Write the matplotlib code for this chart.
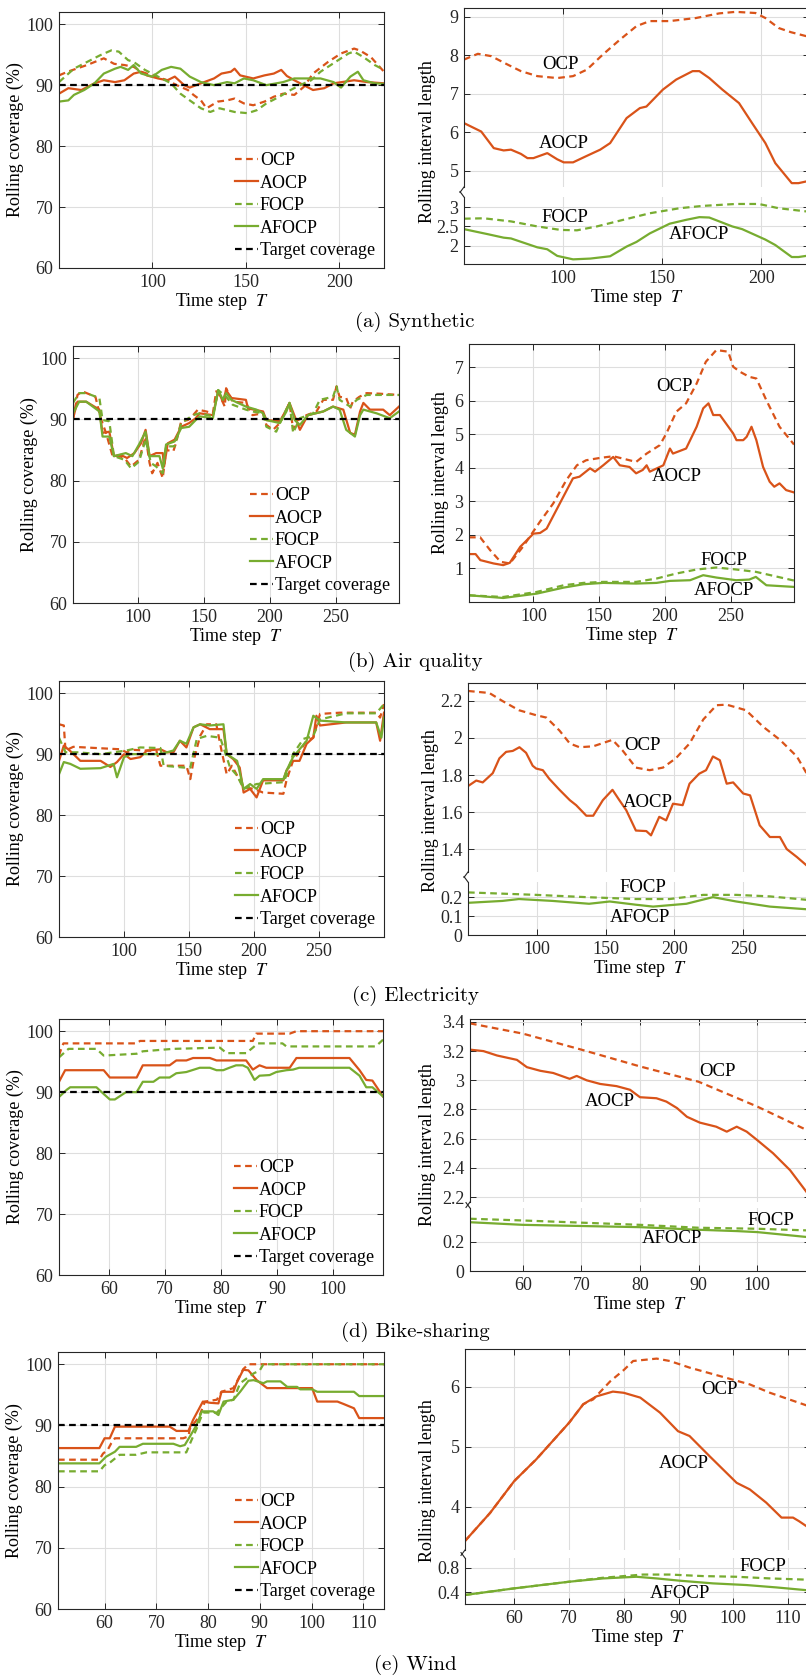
import numpy as np
import matplotlib.pyplot as plt
from matplotlib.ticker import FuncFormatter

plt.rcParams["font.family"] = ["Liberation Serif", "DejaVu Serif"]
plt.rcParams["mathtext.fontset"] = "stix"

ORANGE = "#D95319"
GREEN = "#77AC30"
INK = "#262626"
TARGET = 90

# ---------- (a) Synthetic ----------
syn_cov_ocp = [(50, 91.6), (54.6, 92.2), (65, 93.3), (74, 94.4), (79.5, 93.5), (85, 93.3), (90, 93), (94, 92.2),
               (100, 91.6), (108, 90.8), (113, 90), (119, 89.2), (122, 88.4), (126, 87.5), (129, 86.2), (135, 87.3),
               (140, 87.5), (144, 87.8), (149, 87), (154, 86.7), (160, 87.3), (165, 88.1), (170, 88.6), (176, 88.4),
               (181, 89.7), (186, 91.9), (194, 93.8), (201, 95.2), (208, 96), (211, 95.7), (217, 94.6), (224, 92.2)]
syn_cov_aocp = [(50, 88.6), (55, 89.5), (62, 89.2), (69, 90.3), (74, 90.8), (80, 90.5), (85, 90.8), (90, 91.9),
                (94, 92.2), (97, 91.6), (103, 91.1), (108, 90.8), (112, 91.4), (117, 90), (120, 89.6), (126, 90.3),
                (133, 91.1), (137, 91.9), (142, 92.2), (144, 92.7), (147, 91.6), (154, 91.1), (160, 91.6), (165, 91.9),
                (169, 92.5), (172, 91.5), (176, 90.8), (181, 90), (186, 89.2), (192, 89.5), (197, 90.3), (208, 90.8),
                (215, 90.5), (224, 90.3)]
syn_cov_focp = [(50, 90.5), (58, 92.7), (65, 93.8), (72, 94.9), (78, 95.7), (82, 95.5), (87, 94.1), (90, 93.8),
                (96, 92.5), (103, 91.4), (110, 90.3), (115, 88.6), (120, 87.5), (126, 86.2), (131, 85.6), (136, 86.2),
                (144, 85.6), (151, 85.4), (156, 85.9), (161, 87), (168, 88.1), (174, 89.2), (179, 90), (185, 90.8),
                (190, 92.2), (197, 93.6), (205, 95.2), (208, 95.5), (213, 94.6), (219, 93.3), (224, 92.5)]
syn_cov_afocp = [(50, 87.3), (55, 87.5), (58, 88.4), (63.5, 89.2), (69, 90.3), (74, 91.9), (80, 92.7), (83, 93),
                 (87, 92.5), (90, 93.3), (94, 91.9), (100, 91.4), (105, 92.5), (110, 93), (115, 92.7), (120, 91.4),
                 (126, 90.5), (133, 90), (140, 90.5), (144, 90.3), (149, 91.1), (154, 90.8), (161, 90), (170, 90.5),
                 (176, 91.1), (183, 91.1), (190, 91.1), (197, 90.5), (201, 89.6), (206, 91.4), (210, 92.2),
                 (213, 90.8), (219, 90.3), (224, 90.2)]
syn_len_ocp = [(50, 7.89), (57, 8.04), (63.7, 7.98), (72, 7.76), (78.7, 7.59), (87, 7.46), (97, 7.41), (105, 7.46),
               (112, 7.63), (120, 8.02), (128.7, 8.41), (137, 8.76), (143.7, 8.89), (153.7, 8.89), (167, 8.97),
               (178.7, 9.09), (187, 9.13), (197, 9.1), (202, 8.97), (208.7, 8.71), (215, 8.6), (224, 8.48)]
syn_len_aocp = [(50, 6.24), (58.7, 6.02), (65, 5.59), (70, 5.53), (73.7, 5.55), (78.7, 5.44), (82, 5.33), (85, 5.33),
                (92, 5.46), (97, 5.3), (100.3, 5.22), (105, 5.22), (112, 5.39), (118.7, 5.55), (123.7, 5.72),
                (132, 6.37), (138.7, 6.63), (142, 6.67), (150.3, 7.11), (157, 7.37), (165.3, 7.59), (168.7, 7.59),
                (173.7, 7.41), (180.3, 7.11), (188.7, 6.76), (195.3, 6.24), (202, 5.72), (207, 5.2), (215.3, 4.68),
                (218.7, 4.68), (224, 4.74)]
syn_len_focp = [(50, 2.70), (60, 2.71), (73.7, 2.63), (87, 2.5), (98.7, 2.41), (107, 2.4), (117, 2.5), (128.7, 2.65),
                (143.7, 2.84), (158.7, 2.97), (170.3, 3.03), (187, 3.08), (198.7, 3.08), (208.7, 2.97), (224, 2.88)]
syn_len_afocp = [(50, 2.43), (62, 2.3), (70, 2.21), (73.7, 2.19), (87, 1.96), (92, 1.91), (97, 1.74), (105, 1.65),
                 (113.7, 1.67), (123.7, 1.73), (132, 1.98), (137, 2.1), (143.7, 2.32), (153.7, 2.57), (162, 2.67),
                 (168.7, 2.74), (173.7, 2.73), (185.3, 2.5), (190.3, 2.43), (202, 2.16), (207, 2.02), (215.3, 1.71),
                 (218.7, 1.71), (224, 1.75)]

# ---------- (b) Air quality ----------
air_cov_ocp = [(51, 89.9), (54.4, 94), (58, 94.6), (68, 93.7), (72, 90.2), (76, 87.8), (81, 84), (86, 84), (90, 83.7),
               (95, 82.3), (101, 83.4), (106, 87.2), (109, 82.9), (111, 81.2), (115, 82.9), (119, 80.4), (121.5, 85),
               (127, 84.8), (129, 86.1), (133, 89.7), (138, 89.9), (142, 90.7), (145.6, 91.6), (152, 91.3), (157, 91),
               (159.5, 94.6), (162, 94), (166, 92.1), (167, 95.1), (172, 92.9), (182, 92.7), (187, 90.7), (195, 91),
               (197.5, 89.1), (202.6, 88.3), (207.7, 89.4), (212.7, 91.6), (215, 92.7), (217.8, 88.3), (220, 89.7),
               (228, 90.7), (235.5, 91.3), (240.6, 93.2), (248, 93.2), (250.7, 95.4), (253, 93.7), (258, 93.5),
               (261, 91.8), (263, 92.9), (268, 93.7), (273.5, 94.3), (283.7, 94.2), (298, 94)]
air_cov_aocp = [(51, 90.2), (54.4, 92.9), (61, 92.9), (71, 91.6), (72, 89.9), (73.4, 87.8), (78.5, 88), (82, 84),
                (87, 84.2), (92, 83.7), (97.5, 84.5), (102.5, 86.1), (106, 88.3), (109, 84), (114, 84.5), (119, 84.5),
                (120, 82.3), (122.8, 86.1), (128, 86.7), (133, 88.8), (139, 89.4), (144, 90.2), (147, 91), (157, 90.7),
                (161, 94.6), (164.6, 92.9), (167, 94.8), (171, 93.5), (182, 93.2), (183.6, 91.8), (195, 91.3),
                (197.5, 89.9), (207.7, 89.7), (212.7, 91.6), (215, 92.7), (219, 90.5), (222.9, 88.3), (229, 90.7),
                (240.6, 91.3), (248, 92.1), (255.8, 91.6), (261, 87.8), (264.6, 87.5), (268.5, 91.3), (271, 92.7),
                (276, 91.6), (286, 91.6), (291, 90.7), (298, 92.1)]
air_cov_focp = [(51, 92.7), (55.7, 94.3), (61, 94.3), (71, 93.5), (73.4, 89.9), (78.5, 89.7), (82, 84), (90, 83.4),
                (95, 82), (101, 83.1), (106, 86.7), (110, 82.9), (114, 82.3), (119, 81.2), (121.5, 85.6), (128, 85.6),
                (133, 89.4), (142, 90.7), (147, 91), (157, 90.5), (161, 94.8), (167, 93.7), (172, 92.4), (182, 91.6),
                (187, 91.3), (195, 91), (197.5, 88.8), (205, 88), (210, 90.5), (215, 92.7), (217.8, 87.8),
                (222.9, 90.2), (233, 91), (238, 93.2), (248, 93.7), (250.7, 95.4), (253, 93.2), (261, 92.1),
                (266, 93.2), (273.5, 94), (298, 94)]
air_cov_afocp = [(51, 91), (55.7, 92.9), (61, 92.9), (71, 91.3), (73.4, 87.2), (78.5, 87.2), (82, 84), (91, 84.5),
                 (96, 84), (101, 85.9), (106, 88), (109, 84), (116.5, 84), (119, 82), (121.5, 85.9), (128, 86.4),
                 (133, 88.6), (139, 88.8), (144, 89.9), (147, 90.5), (157, 90.2), (161, 94.8), (164.6, 93.2),
                 (167, 94.3), (171, 93.2), (182, 92.1), (190, 91.6), (195, 91), (197.5, 89.9), (207.7, 89.4),
                 (212.7, 91.3), (215, 92.7), (219, 89.9), (222.9, 89.1), (229, 90.7), (240.6, 91.3), (248, 92.1),
                 (253, 91.6), (258, 88.3), (264.6, 87.2), (268.5, 90.7), (271, 91.6), (281, 91), (291, 90.2),
                 (298, 91.3)]
air_len_ocp = [(51, 1.93), (59.5, 1.93), (67, 1.55), (75, 1.2), (82, 1.15), (92, 1.65), (105, 2.4), (115, 2.94),
               (125, 3.64), (133, 4.08), (140, 4.23), (150.5, 4.3), (160.6, 4.35), (168, 4.28), (178, 4.18),
               (186, 4.43), (196, 4.68), (201, 5.03), (208.6, 5.68), (216, 5.93), (224, 6.52), (231, 7.17),
               (239, 7.52), (248, 7.47), (251.8, 7.02), (257, 6.87), (264, 6.72), (269.4, 6.67), (277, 6.02),
               (287, 5.23), (298, 4.7)]
air_len_aocp = [(51, 1.43), (56, 1.43), (59.6, 1.25), (69.7, 1.15), (77, 1.1), (82, 1.17), (90, 1.65), (100, 2.04),
                (105, 2.06), (110, 2.19), (120, 2.94), (130, 3.69), (135, 3.74), (143, 3.99), (146.8, 3.89),
                (153, 4.08), (160.6, 4.33), (165.6, 4.08), (173, 4.03), (178, 3.84), (183, 3.94), (186, 4.08),
                (188.4, 3.89), (198.7, 4.08), (203.7, 4.58), (206, 4.43), (216, 4.58), (224, 5.23), (229, 5.78),
                (233, 5.93), (236.6, 5.58), (241.7, 5.58), (251.8, 5.03), (254.3, 4.83), (259.4, 4.83), (262, 4.93),
                (265.7, 5.23), (269.4, 4.83), (274.5, 4.03), (279.5, 3.59), (283, 3.44), (287, 3.54), (292, 3.34),
                (298, 3.27)]
air_len_focp = [(51, 0.2), (77, 0.15), (102.5, 0.3), (123, 0.5), (138, 0.57), (153, 0.6), (178, 0.6), (193.5, 0.7),
                (208.6, 0.85), (224, 0.97), (239, 1.03), (254, 0.97), (269, 0.9), (298, 0.64)]
air_len_afocp = [(51, 0.2), (77, 0.12), (102.5, 0.25), (123, 0.43), (138, 0.53), (153, 0.57), (178, 0.55),
                 (193.5, 0.57), (203.7, 0.63), (219, 0.65), (229, 0.8), (239, 0.73), (254, 0.65), (264, 0.67),
                 (269, 0.75), (277, 0.5), (298, 0.45)]

# ---------- (c) Electricity ----------
ele_cov_ocp = [(50, 94.9), (53.7, 94.7), (55, 90.6), (61, 91.2), (97, 90.8), (102, 90.3), (107.4, 90.7), (125, 90.5),
               (128, 88.1), (148, 88.1), (151, 85.9), (153.5, 88.9), (158.6, 93), (163.7, 94.9), (171, 94.9),
               (175, 90.6), (179, 86.7), (183, 88.1), (187, 86.5), (192, 84.6), (199.6, 84.3), (207, 83.7),
               (222.6, 83.5), (225, 85.7), (230, 88.9), (240.5, 92.2), (245.6, 92.7), (250.8, 96.6), (266, 96.8),
               (294, 96.8), (297, 96), (300, 98.2)]
ele_cov_aocp = [(50, 88.9), (53.7, 91.4), (58.7, 90.5), (66.4, 88.9), (82, 88.9), (89.5, 87.9), (94.6, 88.7),
                (100, 90), (105, 89.2), (112.5, 89.5), (117.7, 90.6), (128, 90.8), (133, 90.3), (138, 90.3),
                (143, 92.2), (148, 91.1), (153.5, 94.4), (158.6, 94.9), (166, 94.1), (176.5, 94.1), (179, 90),
                (184, 89.2), (189, 87.8), (192, 83.7), (197, 84.3), (202, 82.9), (207, 85.7), (222.6, 85.7),
                (225, 87.3), (230, 88.9), (235, 88.9), (240.5, 91.7), (245.6, 92.7), (248, 96.3), (250.8, 94.7),
                (271, 95.2), (294, 95.2), (297, 92.2), (300, 96.8)]
ele_cov_focp = [(50, 92.7), (55, 90.3), (64, 90.3), (82, 90), (102, 90.6), (112.5, 91.1), (128, 91), (130.5, 88.1),
                (146, 87.8), (151, 87.8), (156, 92.5), (163.7, 93), (174, 92.7), (176.5, 91.1), (181.6, 87.8),
                (187, 86.5), (192, 84.3), (202, 85.1), (222.6, 85.4), (225, 86.5), (230, 90), (238, 92.5),
                (245.6, 93), (250.8, 95.7), (271, 96.7), (294, 96.7), (300, 98.2)]
ele_cov_afocp = [(50, 86.7), (53.7, 88.7), (58.7, 88.4), (66.4, 87.6), (82, 87.7), (92, 88.4), (94.6, 86.2),
                 (100, 89.5), (105, 90), (128, 90), (138, 90.6), (143, 92.2), (148, 91.7), (153.5, 94.4),
                 (158.6, 94.9), (166, 94.7), (176.5, 94.9), (179, 90), (187, 88.9), (192, 84.3), (197, 85.1),
                 (202, 84.3), (207, 85.9), (222.6, 85.9), (225, 87.3), (230, 89.5), (240.5, 92.2), (245.6, 96.3),
                 (250.8, 95.5), (271, 95.2), (294, 95.2), (298, 92.7), (300, 96)]
ele_len_ocp = [(50, 2.254), (65.5, 2.243), (75, 2.2), (87, 2.15), (99.5, 2.123), (107, 2.11), (116.5, 2.04),
               (124, 1.97), (131, 1.95), (141, 1.955), (155, 1.99), (162.6, 1.93), (172, 1.84), (182, 1.826),
               (191.7, 1.84), (201, 1.89), (211, 1.97), (221, 2.10), (230.6, 2.177), (238, 2.18), (252, 2.15),
               (264.6, 2.06), (276.7, 1.99), (289, 1.9), (296, 1.81), (300, 1.77)]
ele_len_aocp = [(50, 1.74), (56, 1.77), (60.7, 1.76), (68, 1.81), (72.8, 1.89), (77.7, 1.925), (82.5, 1.93),
                (87.4, 1.95), (92.2, 1.92), (97, 1.85), (99.5, 1.835), (104.4, 1.826), (109, 1.78), (116.5, 1.72),
                (124, 1.664), (128.6, 1.637), (136, 1.58), (141, 1.58), (148, 1.664), (155, 1.72), (160, 1.664),
                (165, 1.61), (172, 1.5), (179.6, 1.497), (183, 1.474), (189, 1.574), (194, 1.555), (199, 1.645),
                (206, 1.637), (211, 1.753), (218, 1.807), (223, 1.826), (228, 1.9), (233, 1.88), (238, 1.753),
                (242.7, 1.76), (250, 1.70), (255, 1.69), (262, 1.528), (269.4, 1.465), (276.7, 1.465), (281.6, 1.40),
                (289, 1.357), (296, 1.312), (300, 1.29)]
ele_len_focp = [(50, 0.225), (99.5, 0.212), (136, 0.2), (172, 0.19), (196.6, 0.19), (221, 0.212), (245, 0.212),
                (269.4, 0.204), (296, 0.186), (300, 0.184)]
ele_len_afocp = [(50, 0.17), (75, 0.18), (87, 0.19), (111.6, 0.18), (138, 0.165), (153, 0.177), (172, 0.16),
                 (184.5, 0.15), (208.7, 0.165), (228, 0.2), (245, 0.177), (269.4, 0.15), (296, 0.136), (300, 0.134)]

# ---------- (d) Bike-sharing ----------
bik_cov_ocp = [(51, 96), (51.5, 97.4), (51.8, 98), (64.9, 98), (65.5, 98.4), (85.7, 98.4), (86.3, 99.6),
               (92.3, 99.6), (93.5, 100), (109, 100)]
bik_cov_aocp = [(51, 91.7), (52.1, 93.6), (59, 93.6), (60.1, 92.4), (64.9, 92.4), (66, 94.4), (70.8, 94.4),
                (72, 95.2), (73.8, 95.2), (75, 95.6), (78, 95.6), (79.2, 95.2), (84.5, 95.2), (85.7, 93.7),
                (86.9, 94.4), (88.1, 94), (92.3, 94), (93.5, 95.6), (103, 95.6), (104.8, 93.6), (106, 92),
                (107.1, 91.9), (109, 89.3)]
bik_cov_focp = [(51, 95.7), (52.7, 97.1), (57.7, 97.1), (59, 96), (64.9, 96.3), (66, 96.7), (71.4, 97.1),
                (79.8, 97.3), (81, 96.4), (84.5, 96.4), (85.7, 97.3), (86.6, 98), (91, 98), (91.7, 97.5),
                (107.7, 97.5), (109, 98.6)]
bik_cov_afocp = [(51, 89.2), (52.4, 90.4), (53, 90.8), (57.7, 90.8), (59, 89.7), (60.1, 88.8), (61, 88.8), (63, 90),
                 (64.9, 90), (66, 91.7), (67.9, 91.7), (69, 92.4), (70.8, 92.4), (72, 93.1), (73.8, 93.3),
                 (76.2, 94), (78, 94), (79.2, 93.6), (80.4, 93.6), (81.5, 94), (82.7, 94.4), (83.9, 94.4),
                 (84.8, 94), (86, 92), (86.9, 92.7), (88.7, 92.8), (89.9, 93.3), (91.7, 93.6), (92.9, 93.7),
                 (94, 94), (103, 94), (104.8, 92.7), (106, 90.8), (107.1, 90.8), (109, 89.3)]
bik_len_ocp = [(51, 3.39), (60, 3.32), (70, 3.21), (80, 3.095), (90, 2.99), (100, 2.82), (108.4, 2.66), (109, 2.65)]
bik_len_aocp = [(51, 3.21), (53.3, 3.2), (55.6, 3.17), (59, 3.14), (60.7, 3.09), (63, 3.065), (65.2, 3.05),
                (68, 3.01), (69.2, 3.03), (70.9, 3.0), (73.2, 2.975), (76, 2.96), (78.3, 2.935), (80, 2.884),
                (82.8, 2.877), (84.5, 2.854), (86.3, 2.81), (88, 2.75), (90.2, 2.71), (93, 2.682), (94.8, 2.648),
                (96.5, 2.682), (98.2, 2.648), (100, 2.59), (102.7, 2.5), (105.6, 2.384), (108.4, 2.235), (109, 2.2)]
bik_len_focp = [(51, 0.36), (60, 0.348), (80, 0.318), (90, 0.298), (100, 0.291), (109, 0.279)]
bik_len_afocp = [(51, 0.336), (60, 0.318), (80, 0.302), (90, 0.284), (96.5, 0.275), (100, 0.268), (104, 0.252),
                 (109, 0.232)]

# ---------- (e) Wind ----------
win_cov_ocp = [(51, 84.4), (59, 84.4), (59.7, 85.4), (60.6, 86), (61.3, 87.1), (62, 87.9), (75.2, 87.9),
               (76.2, 88.2), (76.5, 89.5), (77.8, 90.9), (78.4, 91.7), (79.4, 93.9), (81.7, 94.2), (82.6, 95.5),
               (84.9, 96.1), (85.9, 97.7), (86.8, 99.2), (87.8, 100), (114, 100)]
win_cov_aocp = [(51, 86.3), (59, 86.3), (60, 87.9), (61, 87.9), (62, 89.8), (72.6, 89.8), (73.9, 89.1), (76.2, 89.1),
                (77.1, 90.9), (79, 93.9), (80.4, 93.7), (82, 93.6), (82.6, 95.5), (84.9, 95.5), (85.5, 96.9),
                (86.8, 99.1), (87.8, 99), (89.4, 97.4), (91.4, 96.1), (100.1, 96.1), (101.1, 93.9), (105, 93.9),
                (106.2, 93.5), (108.2, 92.8), (109.2, 91.2), (114, 91.2)]
win_cov_focp = [(51, 82.5), (59, 82.5), (60, 83.5), (61, 83.9), (62.9, 85.2), (66.1, 85.2), (68.1, 85.6),
                (75.8, 85.6), (76.8, 87.6), (77.8, 89.5), (79, 92.1), (81.7, 92.1), (83.6, 93.9), (84.9, 94.2),
                (86.2, 96.9), (87.5, 97.7), (88.8, 98.5), (90, 99), (90.7, 100), (114, 100)]
win_cov_afocp = [(51, 83.8), (59, 83.8), (60.3, 84.9), (62, 85.7), (62.9, 86.5), (66.1, 86.5), (67.4, 87),
                 (73.3, 87), (74.6, 86.6), (75.5, 86.8), (76.5, 88.2), (77.8, 90.1), (78.8, 92.3), (81, 92.3),
                 (82, 91.7), (83, 93.9), (84.9, 94.2), (86.2, 95.5), (87.8, 97.3), (88.8, 97.4), (90.7, 96.9),
                 (91.4, 97.2), (94, 97.2), (95.3, 96.3), (97.2, 96.3), (97.8, 95.9), (100.1, 95.9), (101.1, 95.5),
                 (108.2, 95.5), (109.2, 94.8), (114, 94.8)]
win_len_ocp = [(51, 3.43), (55.6, 3.9), (60, 4.43), (64, 4.79), (70, 5.4), (72.6, 5.71), (74.4, 5.79), (77.5, 6.09),
               (80, 6.28), (81.7, 6.43), (86, 6.47), (88.4, 6.43), (92, 6.32), (97.5, 6.18), (103, 6.04),
               (106.7, 5.9), (114, 5.67)]
win_len_aocp = [(51, 3.43), (55.6, 3.9), (60, 4.43), (64, 4.79), (70, 5.4), (72.6, 5.71), (75, 5.84), (78, 5.92),
                (80, 5.9), (83, 5.82), (86.6, 5.57), (89.9, 5.26), (92, 5.18), (95.7, 4.84), (100.6, 4.4),
                (103, 4.29), (106, 4.07), (108.8, 3.82), (110.9, 3.82), (112, 3.76), (113.3, 3.68), (114, 3.63)]
win_len_focp = [(51, 0.357), (60, 0.465), (70, 0.573), (76.2, 0.638), (80, 0.665), (83.5, 0.69), (88.4, 0.69),
                (94.5, 0.665), (100.6, 0.654), (106.7, 0.627), (114, 0.605)]
win_len_afocp = [(51, 0.357), (60, 0.465), (70, 0.573), (76.2, 0.627), (82.3, 0.654), (86, 0.627), (90.2, 0.59),
                 (96.3, 0.546), (102.4, 0.519), (107.9, 0.48), (114, 0.43)]

captions = ["(a) Synthetic", "(b) Air quality", "(c) Electricity", "(d) Bike-sharing", "(e) Wind"]

W, H = 806, 1679
fig = plt.figure(figsize=(W / 100, H / 100), dpi=100)


def box(x0, y0, x1, y1):
    return [x0 / W, 1 - y1 / H, (x1 - x0) / W, (y1 - y0) / H]


def style(ax, xlim, xticks, ylim, yticks):
    ax.set_xlim(*xlim)
    ax.set_ylim(*ylim)
    ax.set_xticks(xticks)
    ax.set_yticks(yticks)
    ax.yaxis.set_major_formatter(FuncFormatter(lambda v, p: f"{v:g}"))
    ax.grid(True, color="#dedede", lw=0.8)
    ax.set_axisbelow(True)
    ax.tick_params(direction="in", top=True, right=True, length=4, width=0.7,
                   colors=INK, labelsize=13, pad=4)
    for s in ax.spines.values():
        s.set_color(INK)
        s.set_linewidth(0.8)


def draw(ax, pts, color, dashed, label=None):
    t, v = np.array(pts).T
    ln, = ax.plot(t, v, color=color, lw=1.6, label=label)
    if dashed:
        ln.set_dashes((3, 2))
    return ln


def xlabel(ax):
    ax.set_xlabel("Time step  $T$", fontsize=13, color="black", labelpad=0)


def coverage(rect, xlim, xticks, ocp, aocp, focp, afocp):
    ax = fig.add_axes(box(*rect))
    style(ax, xlim, xticks, (60, 102), [60, 70, 80, 90, 100])
    h = [draw(ax, ocp, ORANGE, True, "OCP"), draw(ax, aocp, ORANGE, False, "AOCP"),
         draw(ax, focp, GREEN, True, "FOCP"), draw(ax, afocp, GREEN, False, "AFOCP")]
    tl = ax.axhline(TARGET, color="black", lw=1.6, label="Target coverage")
    tl.set_dashes((3, 2))
    h.append(tl)
    ax.legend(handles=h, loc="lower right", frameon=False, fontsize=13, handlelength=1.3,
              handletextpad=0.1, labelspacing=0.3, borderaxespad=0.1, borderpad=0.4)
    ax.set_ylabel("Rolling coverage (%)", fontsize=13, labelpad=2)
    xlabel(ax)
    return ax


def breakmark(ax, where):
    bb = ax.get_position()
    dx = 4 / (bb.width * W)
    dy = 9 / (bb.height * H)
    if where == "bottom":
        ax.plot([0, -dx], [0, -dy * 0.6], transform=ax.transAxes, color=INK, lw=0.8, clip_on=False)
    else:
        ax.plot([-dx, 0], [1 + dy * 0.6, 1], transform=ax.transAxes, color=INK, lw=0.8, clip_on=False)


def interval_broken(x0, x1, up, low, xlim, xticks, up_ylim, up_ticks, low_ylim, low_ticks,
                    ocp, aocp, focp, afocp, tags, ylab_pos):
    axu = fig.add_axes(box(x0, up[0], x1, up[1]))
    axl = fig.add_axes(box(x0, low[0], x1, low[1]))
    style(axu, xlim, xticks, up_ylim, up_ticks)
    style(axl, xlim, xticks, low_ylim, low_ticks)
    axu.spines["bottom"].set_visible(False)
    axl.spines["top"].set_visible(False)
    axu.tick_params(bottom=False, labelbottom=False)
    axl.tick_params(top=False)
    draw(axu, ocp, ORANGE, True)
    draw(axu, aocp, ORANGE, False)
    draw(axl, focp, GREEN, True)
    draw(axl, afocp, GREEN, False)
    for name, (tx, ty) in tags.items():
        target = axu if name in ("OCP", "AOCP") else axl
        target.text(tx, ty, name, fontsize=13.5, ha="center", va="center")
    breakmark(axu, "bottom")
    breakmark(axl, "top")
    xlabel(axl)
    fig.text(ylab_pos[0] / W, 1 - ylab_pos[1] / H, "Rolling interval length", rotation=90,
             fontsize=13, ha="center", va="center")


def caption(text, y):
    fig.text(415 / W, 1 - y / H, text, family="cmr10", fontsize=15, ha="center", va="center")


# row (a)
coverage((59, 12, 384, 268), (50, 224), [100, 150, 200], syn_cov_ocp, syn_cov_aocp, syn_cov_focp, syn_cov_afocp)
interval_broken(464, 809, (8, 187), (197, 264), (50, 224), [100, 150, 200],
                (4.58, 9.23), [5, 6, 7, 8, 9], (1.53, 3.26), [2, 2.5, 3],
                syn_len_ocp, syn_len_aocp, syn_len_focp, syn_len_afocp,
                {"OCP": (98.7, 7.76), "AOCP": (100.3, 5.7), "FOCP": (101, 2.72), "AFOCP": (168.7, 2.28)},
                (428, 142))
caption(captions[0], 322)

# row (b)
coverage((73, 346, 399, 603), (51, 298), [100, 150, 200, 250], air_cov_ocp, air_cov_aocp, air_cov_focp,
         air_cov_afocp)
axb = fig.add_axes(box(469, 344, 794, 602))
style(axb, (51, 298), [100, 150, 200, 250], (0, 7.7), [1, 2, 3, 4, 5, 6, 7])
draw(axb, air_len_ocp, ORANGE, True)
draw(axb, air_len_aocp, ORANGE, False)
draw(axb, air_len_focp, GREEN, True)
draw(axb, air_len_afocp, GREEN, False)
for name, tx, ty in [("OCP", 207.5, 6.42), ("AOCP", 208.6, 3.74), ("FOCP", 245, 1.25), ("AFOCP", 245, 0.35)]:
    axb.text(tx, ty, name, fontsize=13.5, ha="center", va="center")
axb.set_ylabel("Rolling interval length", fontsize=13, labelpad=4)
xlabel(axb)
caption(captions[1], 662)

# row (c)
coverage((59, 681, 384, 937), (50, 300), [100, 150, 200, 250], ele_cov_ocp, ele_cov_aocp, ele_cov_focp,
         ele_cov_afocp)
interval_broken(468, 812, (683, 872), (882, 935), (50, 300), [100, 150, 200, 250],
                (1.276, 2.297), [1.4, 1.6, 1.8, 2.0, 2.2], (0, 0.28), [0, 0.1, 0.2],
                ele_len_ocp, ele_len_aocp, ele_len_focp, ele_len_afocp,
                {"OCP": (176.7, 1.96), "AOCP": (180.8, 1.654), "FOCP": (177, 0.25), "AFOCP": (175, 0.092)},
                (430, 811))
caption(captions[2], 996)

# row (d)
coverage((59, 1019, 383, 1275), (51, 109), [60, 70, 80, 90, 100], bik_cov_ocp, bik_cov_aocp, bik_cov_focp,
         bik_cov_afocp)
interval_broken(470, 810, (1019, 1202), (1208, 1271), (51, 109), [60, 70, 80, 90, 100],
                (2.166, 3.42), [2.2, 2.4, 2.6, 2.8, 3.0, 3.2, 3.4], (0, 0.434), [0, 0.2],
                bik_len_ocp, bik_len_aocp, bik_len_focp, bik_len_afocp,
                {"OCP": (93.3, 3.06), "AOCP": (74.9, 2.854), "FOCP": (102.4, 0.35), "AFOCP": (85.4, 0.225)},
                (428, 1145))
caption(captions[3], 1332)

# row (e)
coverage((58, 1352, 384, 1609), (51, 114), [60, 70, 80, 90, 100, 110], win_cov_ocp, win_cov_aocp, win_cov_focp,
         win_cov_afocp)
interval_broken(465, 810, (1349, 1550), (1558, 1604), (51, 114), [60, 70, 80, 90, 100, 110],
                (3.28, 6.63), [4, 5, 6], (0.21, 0.96), [0.4, 0.8],
                win_len_ocp, win_len_aocp, win_len_focp, win_len_afocp,
                {"OCP": (97.4, 5.96), "AOCP": (91, 4.73), "FOCP": (105.4, 0.816), "AFOCP": (90.2, 0.383)},
                (428, 1481))
caption(captions[4], 1665)

fig.savefig("out.png", dpi=100)
